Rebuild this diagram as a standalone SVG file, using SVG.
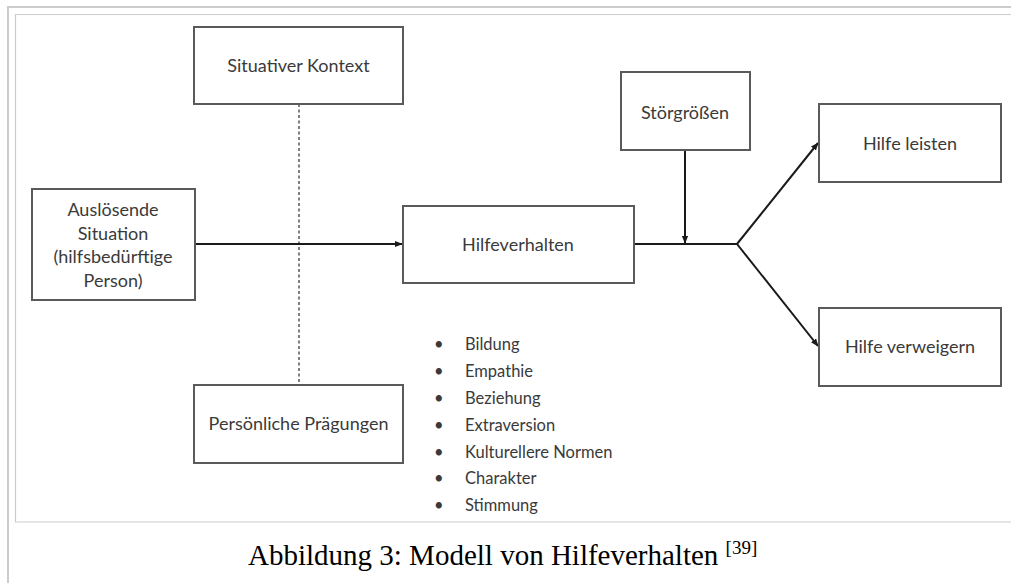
<svg xmlns="http://www.w3.org/2000/svg" width="1011" height="583" viewBox="0 0 1011 583">
<defs>
<marker id="ah" viewBox="0 0 10 10" refX="9" refY="5" markerWidth="4" markerHeight="4" orient="auto" markerUnits="strokeWidth">
<path d="M0,1 L10,5 L0,9 Z" fill="#1a1a1a"/>
</marker>
<style>
.frame{fill:none;stroke:#cccccc}
.box{fill:#ffffff;stroke:#5a5a5a;stroke-width:2}
.lbl{font-family:Lato,"Open Sans","Liberation Sans",sans-serif;font-size:18px;fill:#3a3a3a;text-anchor:middle}
.li{font-family:Lato,"Open Sans","Liberation Sans",sans-serif;font-size:16.5px;fill:#3a3a3a}
.con{fill:none;stroke:#1a1a1a;stroke-width:2}
.cap{font-family:"Liberation Serif","Times New Roman",serif;font-size:29px;fill:#000000}
</style>
</defs>
<rect x="0" y="0" width="1011" height="583" fill="#ffffff"/>
<g id="frame">
<path class="frame" stroke-width="2" d="M8,583 V7 H1011"/>
<path class="frame" stroke-width="1.2" d="M1011,14.5 H15.5 V522 H1011"/>
</g>
<g id="connectors">
<line x1="299" y1="104" x2="299" y2="385" stroke="#2a2a2a" stroke-width="1.2" stroke-dasharray="3,2.5"/>
<line class="con" x1="195" y1="244" x2="402" y2="244" marker-end="url(#ah)"/>
<line class="con" x1="685" y1="151" x2="685" y2="243" marker-end="url(#ah)" stroke-width="1.8"/>
<polyline class="con" points="634,244 737,244" stroke-width="1.3"/>
<line class="con" x1="737" y1="244" x2="818" y2="143" marker-end="url(#ah)" stroke-width="2.2"/>
<line class="con" x1="737" y1="244" x2="818" y2="346" marker-end="url(#ah)" stroke-width="1.4" stroke="#333"/>
</g>
<g id="situativer-kontext">
<rect class="box" x="194" y="27" width="209" height="77"/>
<text class="lbl" x="298.5" y="72">Situativer Kontext</text>
</g>
<g id="stoergroessen">
<rect class="box" x="621" y="72" width="129" height="78"/>
<text class="lbl" x="685" y="119">Störgrößen</text>
</g>
<g id="ausloesende-situation">
<rect class="box" x="32" y="189" width="163" height="111"/>
<text class="lbl" x="113" y="216">Auslösende</text>
<text class="lbl" x="113" y="240">Situation</text>
<text class="lbl" x="113" y="263">(hilfsbedürftige</text>
<text class="lbl" x="113" y="287">Person)</text>
</g>
<g id="hilfeverhalten">
<rect class="box" x="403" y="206" width="231" height="77"/>
<text class="lbl" x="518" y="251">Hilfeverhalten</text>
</g>
<g id="hilfe-leisten">
<rect class="box" x="819" y="104" width="182" height="78"/>
<text class="lbl" x="910" y="150">Hilfe leisten</text>
</g>
<g id="hilfe-verweigern">
<rect class="box" x="819" y="308" width="182" height="78"/>
<text class="lbl" x="910" y="353">Hilfe verweigern</text>
</g>
<g id="persoenliche-praegungen">
<rect class="box" x="194" y="385" width="209" height="78"/>
<text class="lbl" x="298.5" y="430">Persönliche Prägungen</text>
</g>
<g id="factors">
<text class="li" x="434" y="350">•</text><text class="li" x="465" y="350">Bildung</text>
<text class="li" x="434" y="377">•</text><text class="li" x="465" y="377">Empathie</text>
<text class="li" x="434" y="404">•</text><text class="li" x="465" y="404">Beziehung</text>
<text class="li" x="434" y="431">•</text><text class="li" x="465" y="431">Extraversion</text>
<text class="li" x="434" y="458">•</text><text class="li" x="465" y="458">Kulturellere Normen</text>
<text class="li" x="434" y="484">•</text><text class="li" x="465" y="484">Charakter</text>
<text class="li" x="434" y="511">•</text><text class="li" x="465" y="511">Stimmung</text>
</g>
<g id="caption">
<text class="cap" x="248" y="565">Abbildung 3: Modell von Hilfeverhalten <tspan font-size="19" dy="-11">[39]</tspan></text>
</g>
</svg>
